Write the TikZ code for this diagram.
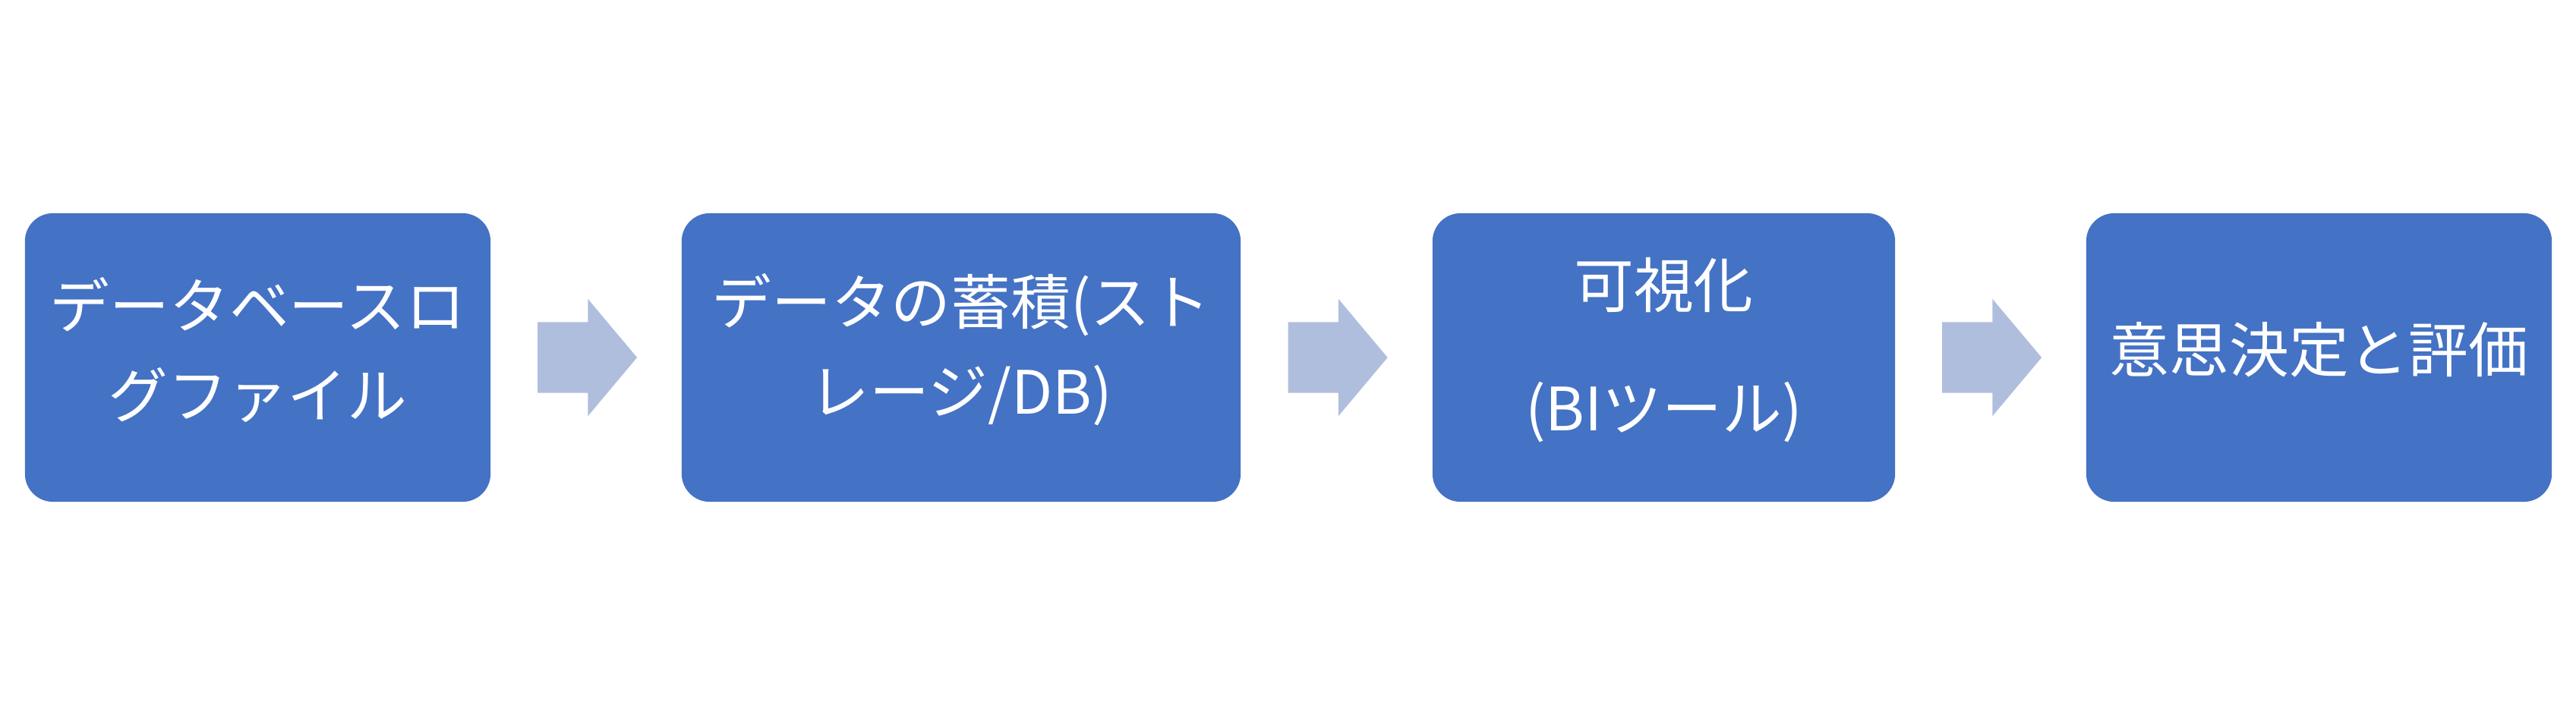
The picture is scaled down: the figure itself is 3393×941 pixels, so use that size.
\documentclass[tikz,border=0pt]{standalone}
\usepackage{fontspec}
\setmainfont{Noto Sans CJK JP}
\usetikzlibrary{shapes.arrows,calc}
\definecolor{boxblue}{RGB}{68,114,196}
\definecolor{arrowblue}{RGB}{176,190,222}

\begin{document}
\begin{tikzpicture}[x=0.01cm,y=0.01cm,
  box/.style={fill=boxblue,rounded corners=0.37cm,minimum height=3.8cm,inner sep=0pt},
  lbl/.style={text=white,align=center,inner sep=0pt,font=\fontsize{22.4}{33.6}\selectfont},
  pil/.style={single arrow,fill=arrowblue,minimum height=1.31cm,inner xsep=0pt,inner ysep=0.46cm,
    single arrow head extend=0.305cm,single arrow tip angle=100,xshift=-0.18cm}]
  \useasboundingbox (0,0) rectangle (3393,941);
  % Rutor
  \node[box,minimum width=6.13cm] (b1) at (339.5,470) {};
  \node[box,minimum width=7.36cm] (b2) at (1266,470) {};
  \node[box,minimum width=6.09cm] (b3) at (2191.5,470) {};
  \node[box,minimum width=6.13cm] (b4) at (3054.5,470) {};
  % Texter
  \node[lbl] (t1) at ([yshift=0.1cm]b1.center) {データベースロ\\グファイル};
  \node[lbl] (t2) at ([yshift=0.1cm]b2.center) {データの蓄積(スト\\レージ/DB)};
  \node[lbl] (t3) at ([yshift=0.1cm]b3.center) {可視化\\[0.44cm](BIツール)};
  \node[lbl] (t4) at ([yshift=0.1cm]b4.center) {意思決定と評価};
  % Pilar
  \node[pil] (p1) at ($(b1.east)!0.5!(b2.west)$) {};
  \node[pil] (p2) at ($(b2.east)!0.5!(b3.west)$) {};
  \node[pil] (p3) at ($(b3.east)!0.5!(b4.west)$) {};
\end{tikzpicture}
\end{document}
